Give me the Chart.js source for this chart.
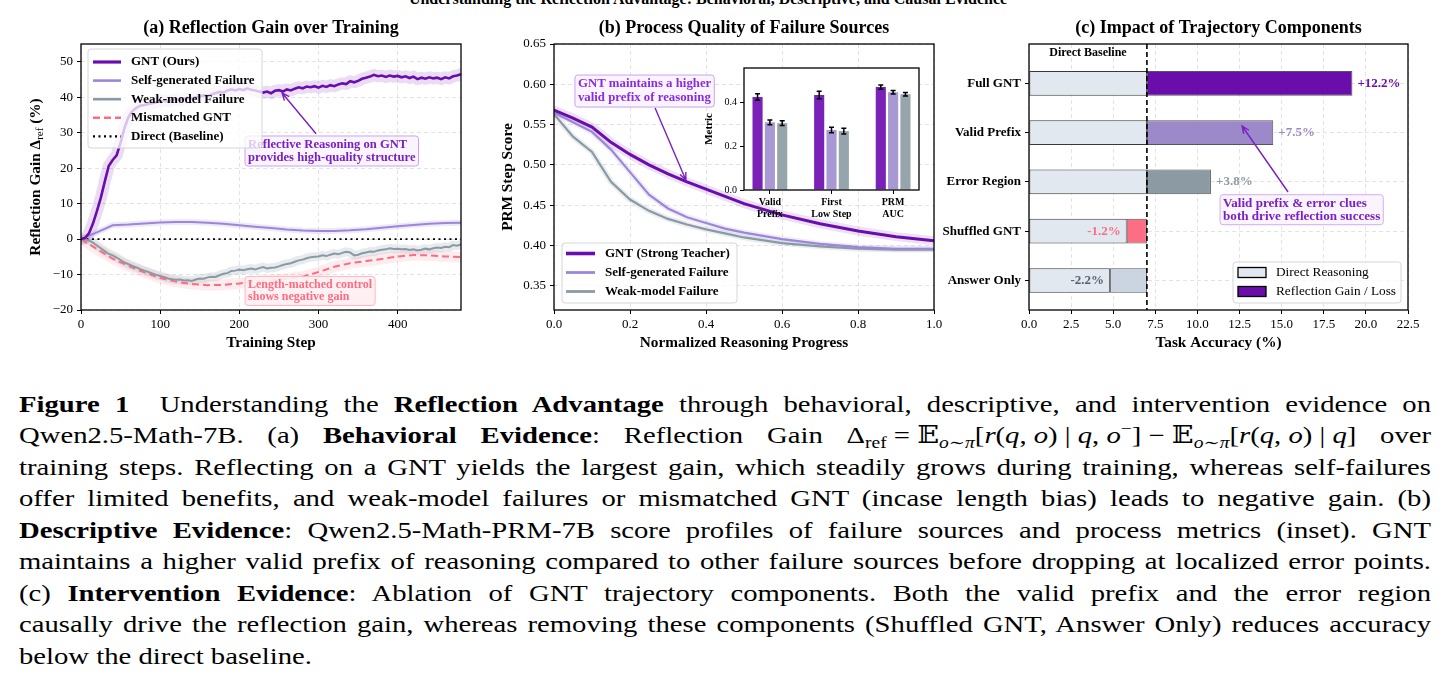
<!DOCTYPE html>
<html>
<head>
<meta charset="utf-8">
<script src="https://cdn.jsdelivr.net/npm/chart.js@4.4.1/dist/chart.umd.min.js"></script>
<style>
  body { margin: 0; width: 1450px; height: 698px; background: #fff; overflow: hidden; position: relative;
         font-family: 'Liberation Serif', Tinos, 'Times New Roman', 'DejaVu Serif', serif; }
  canvas { position: absolute; }
  #sup { position: absolute; left: 0; width: 1416px; top: -9px; text-align: center; font-weight: bold;
         font-size: 16px; line-height: 16px; }
  #caption { position: absolute; left: 19px; top: 388.5px; width: 1412px; font-size: 23.5px; line-height: 31.5px; }
  #caption div { height: 31.5px; white-space: nowrap; }
  #caption .ln { display: inline-block; white-space: nowrap; transform-origin: 0 50%; }
  #caption .m { word-spacing: 0; }
  #caption sub, #caption sup { font-size: 0.68em; line-height: 0; }
  #caption sub { vertical-align: -0.3em; }
  #caption sup { vertical-align: 0.55em; }
</style>
</head>
<body>
<div id="sup">Understanding the Reflection Advantage: Behavioral, Descriptive, and Causal Evidence</div>
<canvas id="chartA" width="480" height="360" style="left:0;top:0"></canvas>
<canvas id="chartB" width="480" height="360" style="left:480px;top:0"></canvas>
<canvas id="chartInset" width="225" height="170" style="left:700px;top:60px"></canvas>
<canvas id="chartC" width="510" height="360" style="left:940px;top:0"></canvas>

<div id="caption">
<div><span class="ln"><b>Figure 1</b>&nbsp; Understanding the <b>Reflection Advantage</b> through behavioral, descriptive, and intervention evidence on</span></div>
<div><span class="ln">Qwen2.5-Math-7B. (a) <b>Behavioral Evidence</b>: Reflection Gain <span class="m">Δ<sub>ref</sub> = 𝔼<sub><i>o</i>∼<i>π</i></sub>[<i>r</i>(<i>q</i>, <i>o</i>) | <i>q</i>, <i>o</i><sup>−</sup>] − 𝔼<sub><i>o</i>∼<i>π</i></sub>[<i>r</i>(<i>q</i>, <i>o</i>) | <i>q</i>]</span> over</span></div>
<div><span class="ln">training steps. Reflecting on a GNT yields the largest gain, which steadily grows during training, whereas self-failures</span></div>
<div><span class="ln">offer limited benefits, and weak-model failures or mismatched GNT (incase length bias) leads to negative gain. (b)</span></div>
<div><span class="ln"><b>Descriptive Evidence</b>: Qwen2.5-Math-PRM-7B score profiles of failure sources and process metrics (inset). GNT</span></div>
<div><span class="ln">maintains a higher valid prefix of reasoning compared to other failure sources before dropping at localized error points.</span></div>
<div><span class="ln">(c) <b>Intervention Evidence</b>: Ablation of GNT trajectory components. Both the valid prefix and the error region</span></div>
<div><span class="ln">causally drive the reflection gain, whereas removing these components (Shuffled GNT, Answer Only) reduces accuracy</span></div>
<div><span class="ln">below the direct baseline.</span></div>
</div>

<script>
// ---------- (a) reflection gain over training ----------
const stepsFine = [
  0, 5, 10, 15, 20, 25, 30, 35, 40, 45,
  50, 55, 60, 65, 70, 75, 80, 85, 90, 95,
  100, 105, 110, 115, 120, 125, 130, 135, 140, 145,
  150, 155, 160, 165, 170, 175, 180, 185, 190, 195,
  200, 205, 210, 215, 220, 225, 230, 235, 240, 245,
  250, 255, 260, 265, 270, 275, 280, 285, 290, 295,
  300, 305, 310, 315, 320, 325, 330, 335, 340, 345,
  350, 355, 360, 365, 370, 375, 380, 385, 390, 395,
  400, 405, 410, 415, 420, 425, 430, 435, 440, 445,
  450, 455, 460, 465, 470, 475, 480
];
const gntGain = [
  0, 0.3, 1.6, 4.3, 7.8, 11.6, 16.2, 20.6, 22.3, 23.6,
  27.2, 31.4, 34.4, 36.1, 37.0, 37.6, 37.8, 38.1, 38.3, 38.6,
  38.8, 39.0, 38.8, 39.2, 39.4, 39.2, 39.6, 39.8, 39.6, 40.0,
  40.2, 40.5, 40.3, 40.8, 41.2, 41.5, 41.3, 41.9, 42.2, 41.9,
  42.3, 42.0, 42.5, 42.1, 41.9, 41.6, 41.3, 41.6, 41.1, 41.8,
  42.0, 41.6, 42.2, 41.9, 42.4, 42.8, 42.5, 43.0, 42.8, 43.1,
  42.7, 43.2, 42.9, 43.4, 43.1, 43.6, 43.9, 43.7, 44.5, 44.2,
  44.6, 45.2, 45.5, 45.8, 46.3, 45.9, 46.1, 45.7, 46.1, 45.8,
  46.0, 45.6, 45.9, 45.4, 45.8, 45.1, 45.5, 45.2, 45.6, 45.3,
  45.5, 45.1, 45.6, 45.3, 45.9, 46.1, 46.5
];
const weakGain = [
  0, -0.1, -0.4, -1.0, -1.8, -2.6, -3.4, -4.2, -4.6, -5.2,
  -5.9, -6.6, -7.1, -7.6, -8.0, -8.5, -8.9, -9.3, -9.7, -10.1,
  -10.4, -10.7, -11.1, -11.3, -11.5, -11.4, -11.7, -11.6, -11.8, -11.4,
  -11.1, -11.2, -10.8, -10.6, -10.7, -10.2, -9.8, -9.6, -9.0, -8.9,
  -8.6, -8.8, -8.5, -8.3, -8.6, -8.2, -7.9, -8.3, -8.1, -8.0,
  -7.7, -7.3, -7.0, -6.8, -6.4, -6.0, -5.8, -5.4, -5.1, -5.0,
  -4.9, -4.6, -4.8, -4.4, -4.1, -4.3, -3.9, -3.6, -3.8, -4.6,
  -4.4, -4.0, -3.8, -3.5, -3.6, -3.2, -3.0, -2.9, -2.6, -2.8,
  -2.7, -2.9, -2.8, -3.1, -2.9, -3.2, -3.0, -2.7, -2.9, -2.6,
  -2.4, -2.5, -2.2, -2.3, -1.7, -1.9, -1.5
];
const stepsCoarse = [0, 20, 40, 60, 80, 100, 120, 140, 160, 180, 200, 220, 240,
                     260, 280, 300, 320, 340, 360, 380, 400, 420, 440, 460, 480];
const selfGain = [0, 1.9, 3.9, 4.1, 4.4, 4.7, 4.8, 4.8, 4.6, 4.3, 3.9, 3.5, 3.1,
                  2.7, 2.4, 2.3, 2.3, 2.5, 2.8, 3.2, 3.6, 4.0, 4.3, 4.5, 4.6];
const mismatchGain = [0, -2.8, -5.5, -7.6, -9.4, -11.0, -12.0, -12.7, -13.0, -12.9, -12.5, -12.0, -11.6,
                      -11.2, -10.6, -9.3, -7.8, -6.8, -6.2, -5.6, -4.9, -4.5, -4.6, -4.9, -5.1];
const baselineSteps = [0, 480];
const baselineGain = [0, 0];
const gainTicks = [-20, -10, 0, 10, 20, 30, 40, 50];
const stepTicks = [0, 100, 200, 300, 400];

// ---------- (b) PRM step score ----------
const progress = [0, 0.05, 0.1, 0.15, 0.2, 0.25, 0.3, 0.35, 0.4, 0.45, 0.5, 0.6, 0.7, 0.8, 0.9, 1.0];
const prmGnt  = [0.568, 0.558, 0.547, 0.528, 0.513, 0.500, 0.489, 0.479, 0.470, 0.461, 0.452, 0.438, 0.427, 0.418, 0.411, 0.406];
const prmSelf = [0.565, 0.553, 0.541, 0.519, 0.491, 0.463, 0.446, 0.435, 0.428, 0.421, 0.416, 0.408, 0.402, 0.398, 0.396, 0.396];
const prmWeak = [0.563, 0.535, 0.516, 0.479, 0.457, 0.443, 0.433, 0.426, 0.420, 0.415, 0.410, 0.403, 0.399, 0.396, 0.395, 0.395];
const prmTicks = [0.35, 0.40, 0.45, 0.50, 0.55, 0.60, 0.65];
const progressTicks = [0, 0.2, 0.4, 0.6, 0.8, 1.0];

// inset metrics
const insetMetrics = [['Valid', 'Prefix'], ['First', 'Low Step'], ['PRM', 'AUC']];
const insetGnt = [0.423, 0.432, 0.468];
const insetSelf = [0.308, 0.273, 0.445];
const insetWeak = [0.304, 0.268, 0.436];
const insetGntErr = [0.015, 0.017, 0.010];
const insetSelfErr = [0.011, 0.013, 0.008];
const insetWeakErr = [0.011, 0.013, 0.008];
const insetTicks = [0, 0.2, 0.4];

// ---------- (c) trajectory components ----------
const components = ['Full GNT', 'Valid Prefix', 'Error Region', 'Shuffled GNT', 'Answer Only'];
const directBaseline = 7.0;
const componentDelta = [12.2, 7.5, 3.8, -1.2, -2.2];
const accTicks = [0, 2.5, 5, 7.5, 10, 12.5, 15, 17.5, 20, 22.5];

// ---------- styling ----------
const FONT = "'Liberation Serif', Tinos, 'Times New Roman', 'DejaVu Serif', serif";
Chart.defaults.font.family = FONT;
Chart.defaults.font.size = 13;
Chart.defaults.color = '#000';
Chart.defaults.animation = false;

const PURPLE = '#6a0dad', LAVENDER = '#9d86d9', SLATE = '#8a9aa4', PINK = '#ff6b81';
const GRID = { color: 'rgba(0,0,0,0.14)', lineWidth: 0.8, tickColor: '#000', tickLength: 4, tickWidth: 1, tickBorderDash: [] };
const BORDER = { display: false, dash: [4, 3] };

const fixedTicks = arr => s => { s.ticks = arr.map(v => ({ value: v })); };
const fixW = w => s => { s.width = w; s.paddingTop = s.paddingBottom = s.paddingLeft = s.paddingRight = 0; };
const fixH = h => s => { s.height = h; s.paddingTop = s.paddingBottom = s.paddingLeft = s.paddingRight = 0; };
const pts = (xs, ys) => xs.map((x, i) => ({ x: x, y: ys[i] }));

// frame, titles, axis labels
function decor(o) {
  return {
    id: 'decor',
    beforeDraw(chart) {
      if (!o.fillArea) return;
      const c = chart.chartArea, ctx = chart.ctx;
      ctx.save(); ctx.fillStyle = '#fff'; ctx.fillRect(c.left, c.top, c.width, c.height); ctx.restore();
    },
    afterDraw(chart) {
      const { ctx, chartArea: c } = chart;
      ctx.save();
      ctx.strokeStyle = '#000'; ctx.lineWidth = o.frameWidth || 1.3;
      ctx.strokeRect(c.left, c.top, c.width, c.height);
      ctx.fillStyle = '#000'; ctx.textAlign = 'center'; ctx.textBaseline = 'middle';
      if (o.title) { ctx.font = 'bold 18px ' + FONT; ctx.fillText(o.title, (c.left + c.right) / 2, c.top - 16); }
      if (o.xLabel) { ctx.font = 'bold 15.3px ' + FONT; ctx.fillText(o.xLabel, (c.left + c.right) / 2, c.bottom + 33); }
      if (o.yLabel) {
        ctx.translate(c.left - o.yGap, (c.top + c.bottom) / 2);
        ctx.rotate(-Math.PI / 2);
        let total = 0;
        o.yLabel.forEach(p => { ctx.font = p.font; total += ctx.measureText(p.t).width; });
        let x = -total / 2;
        ctx.textAlign = 'left';
        o.yLabel.forEach(p => { ctx.font = p.font; ctx.fillText(p.t, x, p.dy || 0); x += ctx.measureText(p.t).width; });
      }
      ctx.restore();
    }
  };
}

// text boxes, arrows, reference lines and labels placed in data coordinates
function annot(o) {
  return {
    id: 'annot',
    afterDatasetsDraw(chart) {
      const ctx = chart.ctx, xs = chart.scales.x, ys = chart.scales.y, c = chart.chartArea;
      const px = v => xs.getPixelForValue(v), py = v => ys.getPixelForValue(v);
      ctx.save();
      (o.vlines || []).forEach(l => {
        ctx.strokeStyle = l.color; ctx.lineWidth = l.width; ctx.setLineDash(l.dash);
        ctx.beginPath(); ctx.moveTo(px(l.x), c.top); ctx.lineTo(px(l.x), c.bottom); ctx.stroke();
        ctx.setLineDash([]);
      });
      (o.boxes || []).forEach(b => {
        ctx.font = b.font;
        const w = Math.max(...b.lines.map(t => ctx.measureText(t).width));
        const x0 = px(b.x), y0 = py(b.y), pad = 3;
        ctx.beginPath();
        ctx.roundRect(x0 - pad, y0 - pad + 1, w + 2 * pad, b.lh * b.lines.length + 2 * pad - 2, 3);
        ctx.fillStyle = b.fill; ctx.fill();
        ctx.strokeStyle = b.border; ctx.lineWidth = 1; ctx.stroke();
        ctx.fillStyle = b.color; ctx.textAlign = 'left'; ctx.textBaseline = 'middle';
        b.lines.forEach((t, i) => ctx.fillText(t, x0, y0 + b.lh * (i + 0.5)));
      });
      (o.arrows || []).forEach(a => {
        const x1 = px(a.from[0]), y1 = py(a.from[1]), x2 = px(a.to[0]), y2 = py(a.to[1]);
        const ang = Math.atan2(y2 - y1, x2 - x1), h = 8;
        ctx.strokeStyle = a.color; ctx.lineWidth = 1.4;
        ctx.beginPath(); ctx.moveTo(x1, y1); ctx.lineTo(x2, y2);
        ctx.moveTo(x2 - h * Math.cos(ang - 0.4), y2 - h * Math.sin(ang - 0.4)); ctx.lineTo(x2, y2);
        ctx.lineTo(x2 - h * Math.cos(ang + 0.4), y2 - h * Math.sin(ang + 0.4));
        ctx.stroke();
      });
      (o.texts || []).forEach(t => {
        ctx.font = t.font; ctx.fillStyle = t.color; ctx.textAlign = t.align; ctx.textBaseline = 'middle';
        ctx.fillText(t.text, px(t.x), py(t.y));
      });
      ctx.restore();
    }
  };
}

// legend drawn inside the plot
function floatLegend(o) {
  return {
    id: 'floatLegend',
    afterDraw(chart) {
      const ctx = chart.ctx;
      ctx.save();
      ctx.beginPath(); ctx.roundRect(o.x, o.y, o.w, o.h, 3);
      ctx.fillStyle = 'rgba(255,255,255,0.75)'; ctx.fill();
      ctx.strokeStyle = '#d6d6d6'; ctx.lineWidth = 1; ctx.stroke();
      ctx.font = o.font; ctx.textBaseline = 'middle'; ctx.textAlign = 'left';
      o.items.forEach((it, i) => {
        const cy = o.y + o.first + i * o.rowH;
        if (it.swatch) {
          ctx.fillStyle = it.swatch; ctx.fillRect(o.sx0, cy - 5, o.sx1 - o.sx0, 10);
          ctx.strokeStyle = '#000'; ctx.lineWidth = 1.3; ctx.strokeRect(o.sx0, cy - 5, o.sx1 - o.sx0, 10);
        } else {
          ctx.strokeStyle = it.stroke; ctx.lineWidth = it.lw; ctx.setLineDash(it.dash || []);
          ctx.beginPath(); ctx.moveTo(o.sx0, cy); ctx.lineTo(o.sx1, cy); ctx.stroke();
          ctx.setLineDash([]);
        }
        ctx.fillStyle = '#000'; ctx.fillText(it.label, o.tx, cy);
      });
      ctx.restore();
    }
  };
}

// error bars for the inset
const errorBars = {
  id: 'errorBars',
  afterDatasetsDraw(chart) {
    const ctx = chart.ctx, ys = chart.scales.y;
    ctx.save(); ctx.strokeStyle = '#000'; ctx.lineWidth = 1.5;
    chart.data.datasets.forEach((ds, di) => {
      chart.getDatasetMeta(di).data.forEach((bar, i) => {
        const v = ds.data[i].y, e = ds.errors[i];
        const t = ys.getPixelForValue(v + e), b = ys.getPixelForValue(v - e);
        ctx.beginPath();
        ctx.moveTo(bar.x, t); ctx.lineTo(bar.x, b);
        ctx.moveTo(bar.x - 2.5, t); ctx.lineTo(bar.x + 2.5, t);
        ctx.moveTo(bar.x - 2.5, b); ctx.lineTo(bar.x + 2.5, b);
        ctx.stroke();
      });
    });
    ctx.restore();
  }
};

const lineDs = (label, xs, ys, color, width, order, extra) => Object.assign({
  label: label, data: pts(xs, ys), borderColor: color, borderWidth: width, pointRadius: 0,
  tension: 0, fill: false, order: order, inLegend: true
}, extra || {});
const bandDs = (xs, ys, color, width) => ({
  label: '', data: pts(xs, ys), borderColor: color, borderWidth: width, pointRadius: 0,
  tension: 0, fill: false, order: 20, borderJoinStyle: 'round', borderCapStyle: 'round'
});
const legendItems = dss => dss.filter(d => d.inLegend).map(d => ({
  label: d.label, stroke: d.borderColor, lw: d.borderWidth + 0.6, dash: d.borderDash
}));

// ---------- chart (a) ----------
const dsA = [
  bandDs(stepsFine, gntGain, 'rgba(106,13,173,0.14)', 12),
  bandDs(stepsCoarse, selfGain, 'rgba(157,134,217,0.18)', 6),
  bandDs(stepsFine, weakGain, 'rgba(138,154,164,0.2)', 9),
  bandDs(stepsCoarse, mismatchGain, 'rgba(255,107,129,0.13)', 11),
  lineDs('GNT (Ours)', stepsFine, gntGain, PURPLE, 2.6, 1),
  lineDs('Self-generated Failure', stepsCoarse, selfGain, LAVENDER, 2, 2),
  lineDs('Weak-model Failure', stepsFine, weakGain, SLATE, 2, 3),
  lineDs('Mismatched GNT', stepsCoarse, mismatchGain, PINK, 2, 4, { borderDash: [7, 4] }),
  lineDs('Direct (Baseline)', baselineSteps, baselineGain, '#000', 1.7, 5, { borderDash: [2, 3.5] })
];
new Chart(document.getElementById('chartA'), {
  type: 'line',
  data: { datasets: dsA },
  plugins: [
    decor({ title: '(a) Reflection Gain over Training', xLabel: 'Training Step', yGap: 45,
            yLabel: [{ t: 'Reflection Gain \u0394', font: 'bold 15.3px ' + FONT },
                     { t: 'ref', font: '11px ' + FONT, dy: 4 },
                     { t: ' (%)', font: 'bold 15.3px ' + FONT }] }),
    annot({
      boxes: [
        { x: 211, y: 28.5, lines: ['Reflective Reasoning on GNT', 'provides high-quality structure'], lh: 13,
          font: 'bold 12.6px ' + FONT, color: '#7a1fc2', fill: 'rgba(250,243,255,0.92)', border: '#c9a3f2' },
        { x: 211, y: -11.1, lines: ['Length-matched control', 'shows negative gain'], lh: 12.5,
          font: 'bold 12px ' + FONT, color: '#ff6b81', fill: 'rgba(255,240,242,0.92)', border: '#ffb6c0' }
      ],
      arrows: [{ from: [297, 29.7], to: [254, 41.2], color: '#7a1fc2' }]
    }),
    floatLegend({ items: legendItems(dsA), x: 88, y: 49, w: 174, h: 99, first: 13, rowH: 18.6,
                  sx0: 93, sx1: 121, tx: 131, font: 'bold 13px ' + FONT })
  ],
  options: {
    responsive: false, devicePixelRatio: 1,
    layout: { padding: { left: 0, top: 44, right: 19, bottom: 0 } },
    scales: {
      x: { type: 'linear', min: 0, max: 480, afterBuildTicks: fixedTicks(stepTicks), afterFit: fixH(50),
           ticks: { autoSkip: false, maxRotation: 0, padding: 3, callback: v => String(v) }, grid: GRID, border: BORDER },
      y: { type: 'linear', min: -20, max: 55, afterBuildTicks: fixedTicks(gainTicks), afterFit: fixW(81),
           ticks: { autoSkip: false, padding: 4, callback: v => (v < 0 ? '\u2212' + (-v) : String(v)) }, grid: GRID, border: BORDER }
    },
    plugins: { legend: { display: false }, tooltip: { enabled: false } }
  }
});

// ---------- chart (b) ----------
const dsB = [
  bandDs(progress, prmGnt, 'rgba(106,13,173,0.13)', 9),
  bandDs(progress, prmSelf, 'rgba(157,134,217,0.15)', 6),
  bandDs(progress, prmWeak, 'rgba(138,154,164,0.17)', 6),
  lineDs('GNT (Strong Teacher)', progress, prmGnt, PURPLE, 3, 1),
  lineDs('Self-generated Failure', progress, prmSelf, LAVENDER, 2.2, 2),
  lineDs('Weak-model Failure', progress, prmWeak, SLATE, 2.2, 3)
];
new Chart(document.getElementById('chartB'), {
  type: 'line',
  data: { datasets: dsB },
  plugins: [
    decor({ title: '(b) Process Quality of Failure Sources', xLabel: 'Normalized Reasoning Progress', yGap: 46,
            yLabel: [{ t: 'PRM Step Score', font: 'bold 15.3px ' + FONT }] }),
    annot({
      boxes: [
        { x: 0.063, y: 0.609, lines: ['GNT maintains a higher', 'valid prefix of reasoning'], lh: 14,
          font: 'bold 12.8px ' + FONT, color: '#8a2be2', fill: 'rgba(250,243,255,0.92)', border: '#c9a3f2' }
      ],
      arrows: [{ from: [0.266, 0.5706], to: [0.347, 0.4813], color: '#7a1fc2' }]
    }),
    floatLegend({ items: legendItems(dsB), x: 82, y: 243, w: 175, h: 60, first: 10.5, rowH: 19,
                  sx0: 86, sx1: 115, tx: 125, font: 'bold 13px ' + FONT })
  ],
  options: {
    responsive: false, devicePixelRatio: 1,
    layout: { padding: { left: 0, top: 44, right: 26, bottom: 0 } },
    scales: {
      x: { type: 'linear', min: 0, max: 1, afterBuildTicks: fixedTicks(progressTicks), afterFit: fixH(50),
           ticks: { autoSkip: false, maxRotation: 0, padding: 3, callback: v => v.toFixed(1) }, grid: GRID, border: BORDER },
      y: { type: 'linear', min: 0.32, max: 0.65, afterBuildTicks: fixedTicks(prmTicks), afterFit: fixW(74),
           ticks: { autoSkip: false, padding: 4, callback: v => v.toFixed(2) }, grid: GRID, border: BORDER }
    },
    plugins: { legend: { display: false }, tooltip: { enabled: false } }
  }
});

// ---------- inset ----------
const insetDs = (label, vals, errs, color) => ({
  label: label, data: insetMetrics.map((m, i) => ({ x: i, y: vals[i] })), errors: errs,
  backgroundColor: color, borderWidth: 0, categoryPercentage: 0.6, barPercentage: 0.82
});
new Chart(document.getElementById('chartInset'), {
  type: 'bar',
  data: { datasets: [
    insetDs('GNT', insetGnt, insetGntErr, '#7a22b8'),
    insetDs('Self', insetSelf, insetSelfErr, '#a898d3'),
    insetDs('Weak', insetWeak, insetWeakErr, '#96a4ac')
  ] },
  plugins: [decor({ fillArea: true, frameWidth: 1.3, yGap: 35, yLabel: [{ t: 'Metric', font: 'bold 11px ' + FONT }] }), errorBars],
  options: {
    responsive: false, devicePixelRatio: 1,
    layout: { padding: { left: 0, top: 8, right: 6, bottom: 0 } },
    scales: {
      x: { type: 'linear', offset: false, min: -0.42, max: 2.42, afterBuildTicks: fixedTicks([0, 1, 2]), afterFit: fixH(40),
           ticks: { autoSkip: false, maxRotation: 0, padding: 2, font: { size: 10, weight: 'bold' }, callback: v => insetMetrics[v] },
           grid: Object.assign({}, GRID, { drawOnChartArea: false, offset: false }), border: { display: false } },
      y: { type: 'linear', min: 0, max: 0.555, afterBuildTicks: fixedTicks(insetTicks), afterFit: fixW(44),
           ticks: { autoSkip: false, padding: 3, font: { size: 10 }, callback: v => v.toFixed(1) },
           grid: Object.assign({}, GRID, { drawOnChartArea: false }), border: { display: false } }
    },
    plugins: { legend: { display: false }, tooltip: { enabled: false } }
  }
});

// ---------- chart (c) ----------
const barColors = ['#6a0dab', '#9b89c9', '#8c9ba3', '#fd6e84', '#cbd5e1'];
const labelColors = ['#6a0dab', '#9b89c9', '#8c9ba3', '#fd6e84', '#56616c'];
const DIRECT = '#e2e8f0';
const lows = componentDelta.map(d => Math.min(directBaseline, directBaseline + d));
const highs = componentDelta.map(d => Math.max(directBaseline, directBaseline + d));
const deltaText = d => (d > 0 ? '+' : '') + d.toFixed(1) + '%';
new Chart(document.getElementById('chartC'), {
  type: 'bar',
  data: { datasets: [
    { label: 'Direct Reasoning', data: components.map((c, i) => ({ y: i, x: [0, lows[i]] })),
      backgroundColor: DIRECT, borderColor: '#3a3a3a', borderWidth: 1, borderSkipped: false },
    { label: 'Reflection Gain / Loss', data: components.map((c, i) => ({ y: i, x: [lows[i], highs[i]] })),
      backgroundColor: barColors, borderColor: '#555', borderWidth: 1, borderSkipped: false }
  ] },
  plugins: [
    decor({ title: '(c) Impact of Trajectory Components', xLabel: 'Task Accuracy (%)' }),
    annot({
      vlines: [{ x: directBaseline, color: '#000', width: 1.6, dash: [5, 3] }],
      boxes: [
        { x: 11.52, y: 2.3, lines: ['Valid prefix & error clues', 'both drive reflection success'], lh: 13,
          font: 'bold 13.1px ' + FONT, color: '#7a1fc2', fill: 'rgba(250,243,255,0.92)', border: '#d3adf5' }
      ],
      arrows: [{ from: [15.38, 2.205], to: [12.65, 0.865], color: '#7a1fc2' }],
      texts: [{ x: directBaseline / 2, y: -0.62, text: 'Direct Baseline', font: 'bold 12px ' + FONT, color: '#000', align: 'center' }]
        .concat(componentDelta.map((d, i) => ({
          x: d > 0 ? highs[i] + 0.3 : lows[i] - 0.35, y: i, text: deltaText(d),
          font: 'bold 13px ' + FONT, color: labelColors[i], align: d > 0 ? 'left' : 'right'
        })))
    }),
    floatLegend({ items: [{ label: 'Direct Reasoning', swatch: DIRECT }, { label: 'Reflection Gain / Loss', swatch: barColors[0] }],
                  x: 293, y: 262, w: 168, h: 41, first: 10.5, rowH: 19, sx0: 298, sx1: 326, tx: 336, font: '13.3px ' + FONT })
  ],
  options: {
    responsive: false, devicePixelRatio: 1, indexAxis: 'y',
    grouped: false, categoryPercentage: 1, barPercentage: 0.5,
    layout: { padding: { left: 0, top: 44, right: 42, bottom: 0 } },
    scales: {
      x: { type: 'linear', min: 0, max: 22.5, afterBuildTicks: fixedTicks(accTicks), afterFit: fixH(50),
           ticks: { autoSkip: false, maxRotation: 0, padding: 3, callback: v => v.toFixed(1) }, grid: GRID, border: BORDER },
      y: { type: 'linear', reverse: true, offset: false, min: -0.8, max: 4.6,
           afterBuildTicks: fixedTicks(components.map((c, i) => i)), afterFit: fixW(89),
           ticks: { autoSkip: false, padding: 4, font: { size: 13, weight: 'bold' }, callback: v => components[v] },
           grid: Object.assign({}, GRID, { offset: false }), border: BORDER }
    },
    plugins: { legend: { display: false }, tooltip: { enabled: false } }
  }
});

// ---------- caption line justification ----------
(function () {
  const W = 1412;
  const spans = Array.from(document.querySelectorAll('#caption .ln'));
  const countSpaces = el => (el.textContent.match(/[ \u00a0]/g) || []).length;
  const widths = spans.map(s => s.getBoundingClientRect().width);
  const scales = [];
  spans.forEach((s, i) => {
    const last = i === spans.length - 1;
    const w = widths[i];
    let sc;
    if (last) {
      sc = scales.reduce((a, b) => a + b, 0) / scales.length;
    } else {
      sc = Math.min(1.22, W / w);
      scales.push(sc);
      let spaces = countSpaces(s);
      s.querySelectorAll('.m').forEach(m => { spaces -= countSpaces(m); });
      s.style.wordSpacing = ((W / sc - w) / spaces) + 'px';
      s.querySelectorAll('.m').forEach(m => { m.style.wordSpacing = '0px'; });
    }
    s.style.transform = 'scaleX(' + sc + ')';
  });
})();
</script>
</body>
</html>
